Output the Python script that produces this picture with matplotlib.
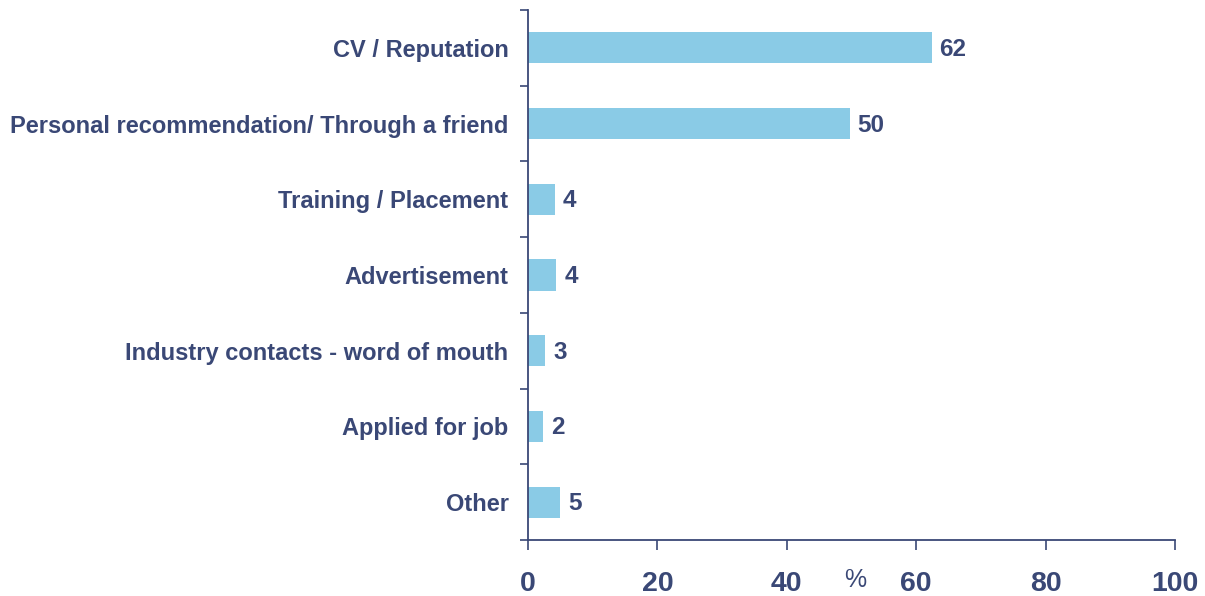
import numpy as np
import matplotlib.pyplot as plt
from matplotlib.ticker import FixedLocator

plt.rcParams['font.family'] = ['Liberation Sans', 'DejaVu Sans']

# Percentages for how people found their work
categorias = ['CV / Reputation',
              'Personal recommendation/ Through a friend',
              'Training / Placement',
              'Advertisement',
              'Industry contacts - word of mouth',
              'Applied for job',
              'Other']
valores = [62.4, 49.7, 4.1, 4.4, 2.7, 2.3, 5.0]
xticks = [0, 20, 40, 60, 80, 100]

azul = '#8ACBE6'
navy = '#3A4876'

fig = plt.figure(figsize=(12.05, 5.96), dpi=100)
ax = fig.add_axes([528 / 1205, 1 - 540 / 596, 647 / 1205, 530 / 596])

pos = np.arange(len(categorias))
ax.barh(pos, valores, height=0.41, color=azul, zorder=2)

for p, v in zip(pos, valores):
    ax.text(v + 1.2, p + 0.02, f'{v:.0f}', va='center', ha='left',
            fontsize=17.5, fontweight='bold', color=navy)

ax.set_ylim(len(categorias) - 0.5, -0.5)
ax.set_xlim(0, 100)
ax.set_yticks(pos)
ax.set_yticklabels(categorias, fontsize=17, fontweight='bold', color=navy)
ax.yaxis.set_minor_locator(FixedLocator(np.arange(-0.5, len(categorias), 1)))
ax.tick_params(axis='y', which='major', length=0, pad=14)
ax.tick_params(axis='y', which='minor', length=6, width=1.2, color=navy)

ax.set_xticks(xticks)
ax.set_xticklabels([str(t) for t in xticks], fontsize=20.5, fontweight='bold', color=navy)
ax.tick_params(axis='x', length=7, width=1.2, color=navy, pad=15)

for lado in ['top', 'right']:
    ax.spines[lado].set_visible(False)
for lado in ['left', 'bottom']:
    ax.spines[lado].set_color(navy)
    ax.spines[lado].set_linewidth(1.3)

fig.text(855.5 / 1205, 1 - 580 / 596, '%', ha='center', va='center',
         fontsize=18, color=navy)

fig.savefig('out.png', dpi=100)
